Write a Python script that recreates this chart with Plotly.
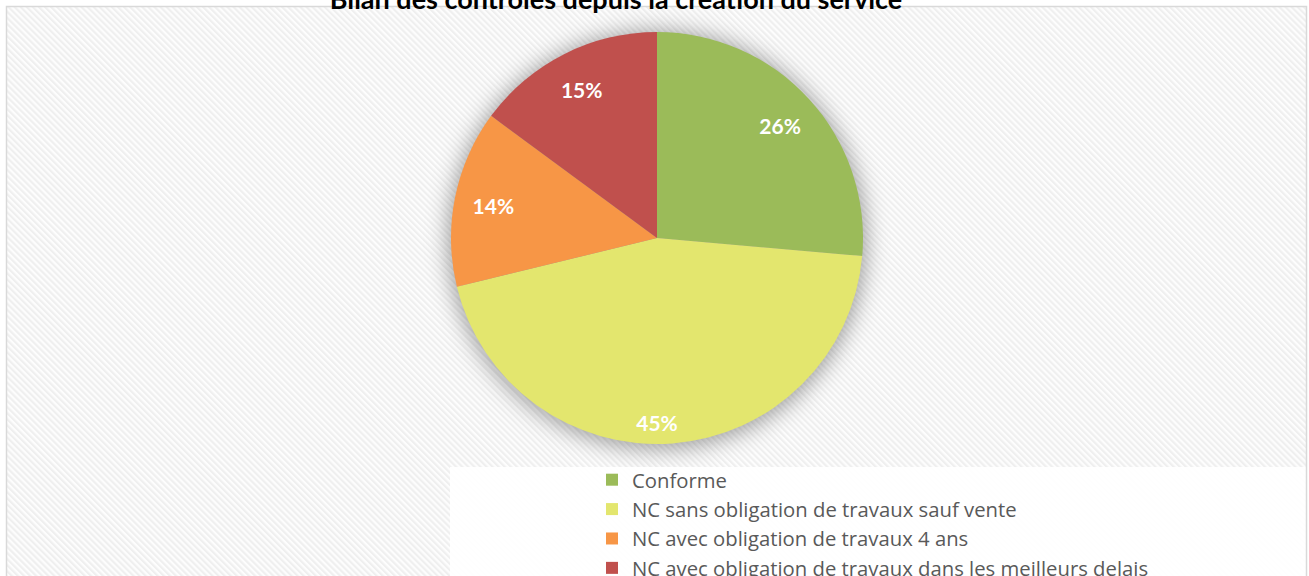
import base64
import plotly.graph_objects as go

# ---- data ----
categories = [
    "Conforme",
    "NC sans obligation de travaux sauf vente",
    "NC avec obligation de travaux 4 ans",
    "NC avec obligation de travaux dans les meilleurs delais",
]
values = [26.4, 44.8, 13.9, 14.9]
colors = ["#9BBB59", "#E3E66E", "#F79646", "#C0504D"]
title_text = "Bilan des contrôles depuis la création du service"

W, H = 1309, 576
CX, CY, R = 657, 238, 206  # pie centre / radius in pixels (layout)

# ---- background decoration (hatched chart area, soft pie shadow, legend panel, border) ----
svg = f'''<svg xmlns="http://www.w3.org/2000/svg" width="{W}" height="{H}" viewBox="0 0 {W} {H}" preserveAspectRatio="none">
<defs>
<pattern id="p" width="4.3" height="4.3" patternUnits="userSpaceOnUse" patternTransform="rotate(-45)">
<rect width="4.3" height="4.3" fill="#fdfdfd"/>
<rect width="2.1" height="4.3" fill="#efefef"/>
</pattern>
<filter id="b" x="-30%" y="-30%" width="160%" height="160%"><feGaussianBlur stdDeviation="11"/></filter>
</defs>
<rect width="{W}" height="{H}" fill="#ffffff"/>
<rect x="7" y="7" width="1299" height="580" fill="url(#p)"/>
<circle cx="{CX}" cy="{CY + 2}" r="{R + 3}" fill="#000000" fill-opacity="0.36" filter="url(#b)"/>
<rect x="450" y="467" width="856" height="120" fill="#ffffff" fill-opacity="0.93"/>
<rect x="6.5" y="6.5" width="1300" height="590" fill="none" stroke="#d9d9d9" stroke-width="1.5"/>
</svg>'''
src = "data:image/svg+xml;base64," + base64.b64encode(svg.encode("utf-8")).decode("ascii")

dom = dict(x=[(CX - R) / W, (CX + R) / W],
           y=[(H - CY - R) / H, (H - CY + R) / H])

fig = go.Figure()
fig.add_trace(go.Pie(
    labels=categories,
    values=values,
    sort=False,
    direction="clockwise",
    rotation=0,
    marker=dict(colors=colors, line=dict(width=0)),
    textinfo="none",
    hoverinfo="label+percent",
    domain=dom,
))

# transparent rings carrying the data labels (places them toward the rim, like the original)
PCT = "%{percent:.0%}"
label_font = dict(family="Lato", size=21, color="#ffffff", weight="bold")
for hole, templates in [
    (0.62, [PCT, "", PCT, PCT]),
    (0.80, ["", PCT, "", ""]),
]:
    fig.add_trace(go.Pie(
        labels=categories,
        values=values,
        sort=False,
        direction="clockwise",
        rotation=0,
        hole=hole,
        marker=dict(colors=["rgba(0,0,0,0)"] * len(values), line=dict(width=0)),
        texttemplate=templates,
        textposition="inside",
        insidetextorientation="horizontal",
        textfont=label_font,
        hoverinfo="skip",
        showlegend=False,
        domain=dom,
    ))

fig.update_layout(
    width=W, height=H, autosize=False,
    margin=dict(l=0, r=0, t=0, b=0, autoexpand=False),
    paper_bgcolor="#ffffff",
    plot_bgcolor="rgba(0,0,0,0)",
    images=[dict(source=src, xref="paper", yref="paper", x=0, y=1,
                 sizex=1, sizey=1, sizing="stretch", layer="below")],
    title=dict(text=title_text, x=616 / W, xanchor="center", y=1.0, yanchor="middle",
               yref="container",
               font=dict(family="Lato", size=27, color="#000000", weight="bold")),
    showlegend=True,
    legend=dict(x=592 / W, y=(H - 460) / H, xanchor="left", yanchor="top",
                bgcolor="rgba(0,0,0,0)",
                font=dict(family="Open Sans", size=20.3, color="#595959")),
)

fig.write_html(
    "out.html",
    config={"responsive": False, "displayModeBar": False},
    post_script="document.body.style.margin='0';document.body.style.overflow='hidden';",
)
